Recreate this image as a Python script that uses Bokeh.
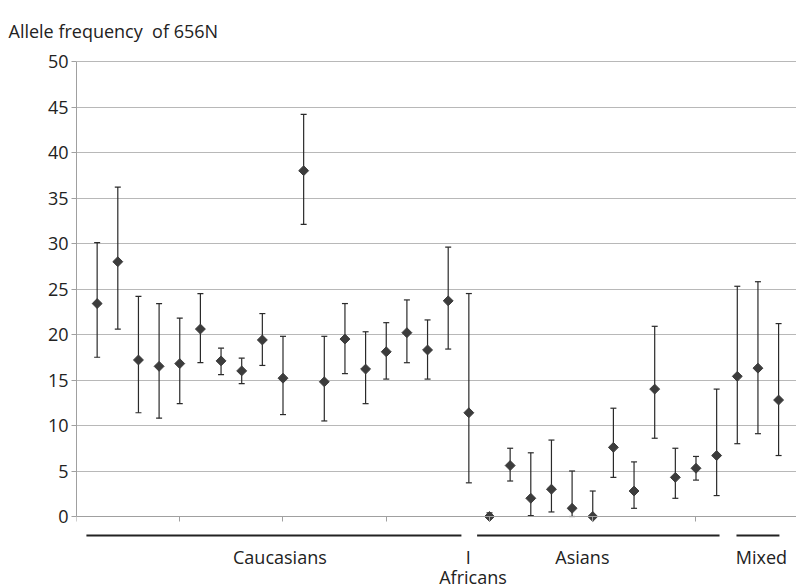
from bokeh.plotting import figure
from bokeh.models import ColumnDataSource, Whisker, TeeHead, FixedTicker, Range1d
from bokeh.core.properties import value
from bokeh.embed import file_html
from bokeh.resources import INLINE

# ---- data ----
study = list(range(1, 35))
population = ["Caucasians"] * 18 + ["Africans"] * 1 + ["Asians"] * 12 + ["Mixed"] * 3
freq = [23.4, 28.0, 17.2, 16.5, 16.8, 20.6, 17.1, 16.0, 19.4, 15.2, 38.0, 14.8, 19.5, 16.2, 18.1,
        20.2, 18.3, 23.7, 11.4, 0.0, 5.6, 2.0, 3.0, 0.9, 0.0, 7.6, 2.8, 14.0, 4.3, 5.3, 6.7,
        15.4, 16.3, 12.8]
lower = [17.5, 20.6, 11.4, 10.8, 12.4, 16.9, 15.6, 14.6, 16.6, 11.2, 32.1, 10.5, 15.7, 12.4, 15.1,
         16.9, 15.1, 18.4, 3.7, 0.0, 3.9, 0.1, 0.5, 0.0, 0.0, 4.3, 0.9, 8.6, 2.0, 4.0, 2.3,
         8.0, 9.1, 6.7]
upper = [30.1, 36.2, 24.2, 23.4, 21.8, 24.5, 18.5, 17.4, 22.3, 19.8, 44.2, 19.8, 23.4, 20.3, 21.3,
         23.8, 21.6, 29.6, 24.5, 0.4, 7.5, 7.0, 8.4, 5.0, 2.8, 11.9, 6.0, 20.9, 7.5, 6.6, 14.0,
         25.3, 25.8, 21.2]
y_ticks = [0, 5, 10, 15, 20, 25, 30, 35, 40, 45, 50]
x_ticks = [0, 5, 10, 15, 20, 25, 30, 35]
title_text = "Allele frequency\u00a0 of 656N"
group_names = ["Caucasians", "I", "Asians", "Mixed", "Africans"]

src = ColumnDataSource(dict(x=study, y=freq, lo=lower, hi=upper, pop=population))

FONT = "Open Sans"
TOP = 60
p = figure(width=796, height=588, output_backend="svg", toolbar_location=None,
           x_range=Range1d(0, 34.867), y_range=Range1d(-7.912, 50 + (61 - TOP) / 9.1),
           x_axis_location="above",
           min_border_left=76, min_border_right=0, min_border_top=TOP, min_border_bottom=0)
p.outline_line_color = None
p.background_fill_color = "white"
p.border_fill_color = "white"

# title
p.title.text = title_text
p.title.text_font = FONT
p.title.text_font_size = "18px"
p.title.text_font_style = "normal"
p.title.text_color = "#222222"
p.title.align = "left"
p.title.vertical_align = "top"
p.title.offset = -68
p.title.standoff = 32

# grid
p.xgrid.grid_line_color = None
p.ygrid.ticker = FixedTicker(ticks=y_ticks)
p.ygrid.grid_line_color = "#b8b8b8"
p.ygrid.grid_line_width = 1.2

# y axis
p.yaxis.ticker = FixedTicker(ticks=y_ticks)
p.yaxis.bounds = (0, 50)
p.yaxis.axis_line_color = "#a0a0a0"
p.yaxis.major_tick_line_color = "#a0a0a0"
p.yaxis.major_tick_out = 5
p.yaxis.major_tick_in = 0
p.yaxis.minor_tick_line_color = None
p.yaxis.major_label_text_font = FONT
p.yaxis.major_label_text_font_size = "18px"
p.yaxis.major_label_text_color = "#222222"
p.yaxis.major_label_standoff = 3

# x axis (drawn at y = 0, ticks pointing down)
p.xaxis.ticker = FixedTicker(ticks=x_ticks)
p.xaxis.fixed_location = 0
p.xaxis.bounds = (0, 35)
p.xaxis.axis_line_color = "#a0a0a0"
p.xaxis.major_tick_line_color = "#a0a0a0"
p.xaxis.major_tick_out = 0
p.xaxis.major_tick_in = 5
p.xaxis.minor_tick_line_color = None
p.xaxis.major_label_overrides = {t: "" for t in x_ticks}
p.xaxis.major_label_standoff = 0

# error bars
w = Whisker(base="x", lower="lo", upper="hi", source=src, line_color="#2a2a2a", line_width=1.2,
            upper_head=TeeHead(size=6, line_color="#2a2a2a", line_width=1.2),
            lower_head=TeeHead(size=6, line_color="#2a2a2a", line_width=1.2))
p.add_layout(w)

# diamonds
p.scatter("x", "y", source=src, marker="square", angle=0.785398, size=7,
          fill_color="#3c3c3c", line_color="#3c3c3c")

# group brackets and labels
p.segment(x0=[0.48, 19.4, 31.96], y0=[-2.09] * 3, x1=[18.64, 31.14, 34.04], y1=[-2.09] * 3,
          line_color="#222222", line_width=2)
p.text(x=[9.85, 18.97, 24.5, 33.17, 19.2], y=[-4.47, -4.47, -4.47, -4.47, -6.67], text=group_names,
       text_font=value(FONT), text_font_size="18px", text_color="#222222",
       text_align="center", text_baseline="middle")

open("out.html", "w").write(file_html(p, INLINE))
